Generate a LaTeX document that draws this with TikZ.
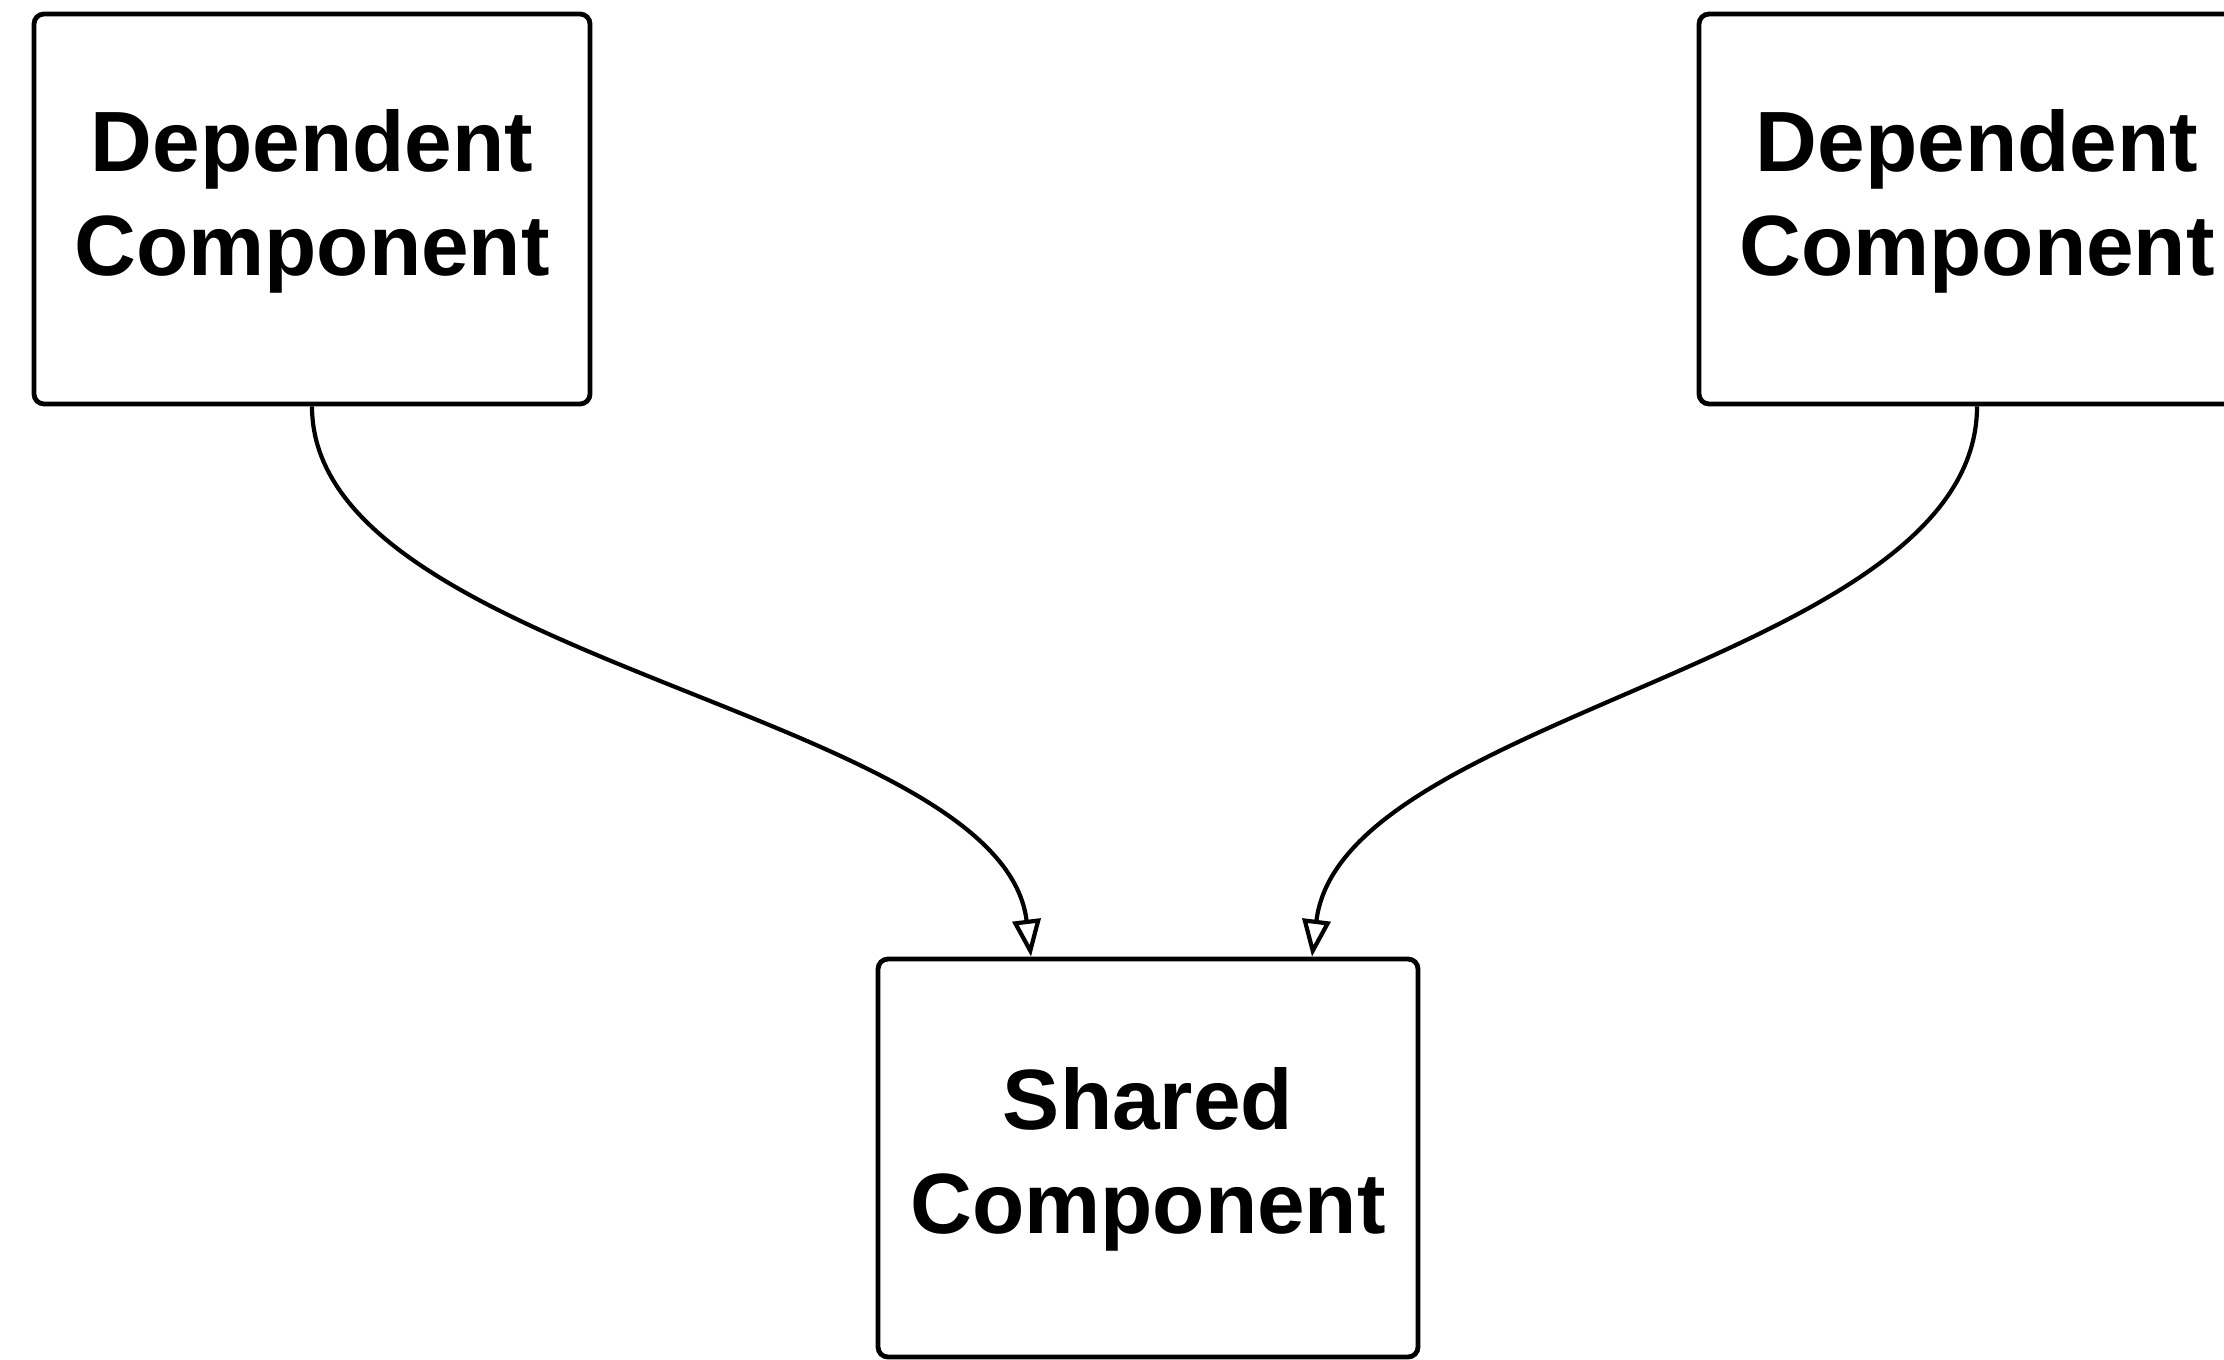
\documentclass[tikz,border=0pt]{standalone}
\usepackage{fontspec}
\setmainfont{Liberation Sans}
\usetikzlibrary{arrows.meta}
\tikzset{
  box/.style={draw=black, line width=1.2pt, rounded corners=2.5pt, fill=white, inner sep=0pt},
  lbl/.style={align=center, inner sep=0pt, font=\bfseries\fontsize{21.4pt}{26pt}\selectfont},
  conn/.style={draw=black, line width=1.05pt, -{Triangle[open, length=9.25pt, width=7pt, line width=1.05pt]}}
}
\begin{document}
\begin{tikzpicture}[x=0.25pt, y=-0.25pt]
\useasboundingbox (0,0) rectangle (2224,1359);
\clip (0,0) rectangle (2224,1359);
% boxes
\node[box, minimum width=139pt, minimum height=97.5pt] (dl) at (312,209) {};
\node[box, minimum width=139pt, minimum height=97.5pt] (dr) at (1977,209) {};
\node[box, minimum width=135pt, minimum height=99.5pt] (sh) at (1148,1158) {};
% labels
\node[lbl] (tl) at (312,201) {Dependent\\Component};
\node[lbl] (tr) at (1977,201) {Dependent\\Component};
\node[lbl] (ts) at (1148,1159) {Shared\\Component};
% arrow end points
\coordinate (e1) at ([xshift=-29.25pt]sh.north);
\coordinate (e2) at ([xshift=41pt]sh.north);
% connectors
\draw[conn] (dl.south) .. controls +(0,255) and +(-30,-245) .. (e1);
\draw[conn] (dr.south) .. controls +(0,255) and +(30,-245) .. (e2);
\end{tikzpicture}
\end{document}
